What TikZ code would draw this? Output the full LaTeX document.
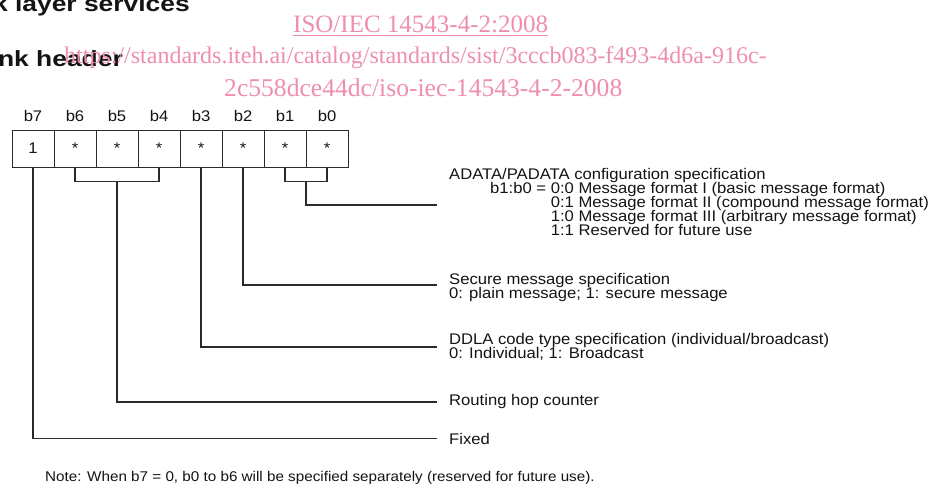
\documentclass[tikz,border=0pt]{standalone}
\usepackage{fontspec}
\setmainfont{Liberation Sans}[FakeStretch=1.08]
\newfontfamily\headfont{Liberation Sans}[FakeStretch=1.2]
\newfontfamily\markfont{Liberation Serif}
\usetikzlibrary{calc,positioning}
\definecolor{regink}{HTML}{141414}
\definecolor{regline}{HTML}{2B2B2B}
\definecolor{regmark}{HTML}{EF8FAE}
\newcommand\regtight{\lineskiplimit=-20pt\relax}

\begin{document}
\begin{tikzpicture}[x=1pt,y=-1pt,
  font=\fontsize{15.4}{14}\selectfont,text=regink,
  regbit/.style={draw=regline,line width=1pt,minimum width=42pt,minimum height=37pt,inner sep=0pt},
  reglabel/.style={inner sep=0pt},
  regwire/.style={draw=regline,line width=1.1pt},
  regtext/.style={anchor=west,align=left,inner xsep=12pt,inner ysep=0pt,
    font=\fontsize{15.4}{14}\selectfont\regtight},
  reghead/.style={anchor=base east,inner sep=0pt,font=\headfont\bfseries\fontsize{22}{26}\selectfont},
  regmarktext/.style={anchor=base west,inner sep=0pt,text=regmark}]
  \fill[white] (0,0) rectangle (933,484);
  \path[use as bounding box] (0,0) rectangle (933,484);

  \node[reghead] (headtop) at (190,12) {k layer services};
  \node[reghead] (headsub) at (123,66.7) {nk header};

  % one box per bit, b7 on the left
  \foreach \b/\v [count=\i from 0] in {7/1,6/*,5/*,4/*,3/*,2/*,1/*,0/*}
    {\node[regbit] (b\b) at (33+42*\i,148.5) {\v};
     \node[reglabel,above=8pt of b\b] (l\b) {b\b};}

  \coordinate (hop) at ($(b5.south)+(0,14)$);
  \coordinate (fmt) at ($(b1.south)!0.5!(b0.south)+(0,14)$);

  \node[regtext,yshift=2.6pt] (adata) at (437,205)
    {ADATA/PADATA configuration specification\\
     \hspace*{41pt}b1:b0 = 0:0 Message format I (basic message format)\\
     \hspace*{41pt}\phantom{b1:b0 = }0:1 Message format II (compound message format)\\
     \hspace*{41pt}\phantom{b1:b0 = }1:0 Message format III (arbitrary message format)\\
     \hspace*{41pt}\phantom{b1:b0 = }1:1 Reserved for future use};
  \node[regtext,yshift=-3pt] (secure) at (437,285) {Secure message specification\\0: plain message; 1: secure message};
  \node[regtext] (ddla) at (437,347) {DDLA code type specification (individual/broadcast)\\0: Individual; 1: Broadcast};
  \node[regtext] (routing) at (437,402) {Routing hop counter};
  \node[regtext] (fixed) at (437,438.5) {Fixed};

  \draw[regwire] (b1.south) |- (fmt) -| (b0.south);
  \draw[regwire] (fmt) |- ([yshift=-2.6pt]adata.west);
  \draw[regwire] (b2.south) |- ([yshift=3pt]secure.west);
  \draw[regwire] (b3.south) |- (ddla.west);
  \draw[regwire] (b6.south) |- (hop) -| (b4.south);
  \draw[regwire] (hop) |- (routing.west);
  \draw[regwire] (b7.south) |- (fixed.west);

  \node[anchor=base west,inner sep=0pt,font=\fontsize{14.1}{16}\selectfont] (note) at (45,481.5)
    {Note: When b7 = 0, b0 to b6 will be specified separately (reserved for future use).};

  \node[regmarktext,font=\markfont\fontsize{25}{27}\selectfont] (markiso) at (293,33) {\underline{ISO/IEC 14543-4-2:2008}};
  \node[regmarktext,font=\markfont\fontsize{24}{26}\selectfont] (markurl) at (64,64) {https://standards.iteh.ai/catalog/standards/sist/3cccb083-f493-4d6a-916c-};
  \node[regmarktext,font=\markfont\fontsize{25.6}{27}\selectfont] (markid) at (224,97) {2c558dce44dc/iso-iec-14543-4-2-2008};
\end{tikzpicture}
\end{document}
